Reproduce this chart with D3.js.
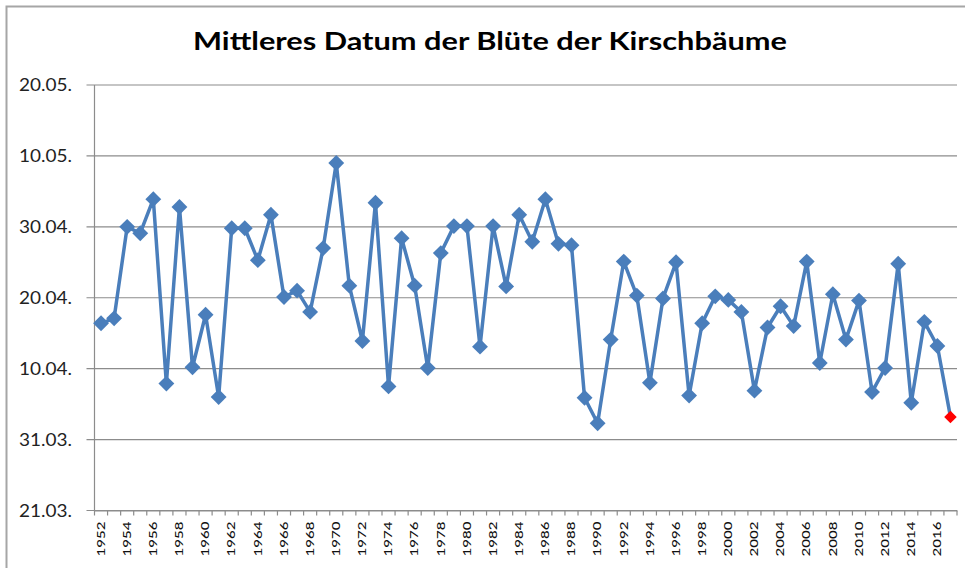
<!DOCTYPE html>
<html>
<head>
<meta charset="utf-8">
<script src="https://cdn.jsdelivr.net/npm/d3@7"></script>
<style>
  body { margin: 0; background: #fff; }
  text { font-family: Lato, "Open Sans", sans-serif; }
</style>
</head>
<body>
<svg width="965" height="568"></svg>
<script>
// Mittleres Datum der Kirschblüte, values = days after 21.03.
var years = d3.range(1952, 2018);
var bloomDays = [
  26.4, 27.1, 40.0, 39.1, 43.9, 17.9, 42.8, 20.2, 27.6, 16.0,
  39.8, 39.8, 35.3, 41.7, 30.1, 31.0, 28.0, 37.0, 49.0, 31.7,
  23.9, 43.4, 17.5, 38.4, 31.7, 20.1, 36.3, 40.1, 40.1, 23.1,
  40.1, 31.6, 41.7, 37.9, 43.9, 37.6, 37.4, 15.9, 12.3, 24.1,
  35.1, 30.3, 18.0, 29.9, 35.0, 16.2, 26.4, 30.2, 29.7, 28.0,
  16.9, 25.8, 28.8, 26.0, 35.1, 20.8, 30.5, 24.1, 29.6, 16.7,
  20.1, 34.8, 15.2, 26.6, 23.2, 13.2
];
var yTickValues = [0, 10, 20, 30, 40, 50, 60];
var yTickLabels = ['21.03.', '31.03.', '10.04.', '20.04.', '30.04.', '10.05.', '20.05.'];
var title = 'Mittleres Datum der Blüte der Kirschbäume';

var svg = d3.select('svg');
var plot = {l: 94.5, r: 957, t: 85, b: 510.5};

// outer frame (only top and left visible)
svg.append('path')
    .attr('d', 'M6.5,568 V6.5 H965')
    .attr('fill', 'none')
    .attr('stroke', '#a6a6a6')
    .attr('stroke-width', 2);

svg.append('text')
    .attr('x', 490).attr('y', 49.5)
    .attr('text-anchor', 'middle')
    .attr('font-size', 25).attr('font-weight', 'bold')
    .attr('textLength', 594).attr('lengthAdjust', 'spacingAndGlyphs')
    .attr('fill', '#000')
    .text(title);

var xScale = d3.scaleBand().domain(years).range([plot.l, plot.r]).padding(0);
var yScale = d3.scaleLinear().domain([0, 60]).range([plot.b, plot.t]);

// gridlines + y ticks
svg.append('g').selectAll('line')
    .data(yTickValues)
    .enter().append('line')
    .attr('x1', plot.l - 8).attr('x2', plot.r)
    .attr('y1', d => yScale(d)).attr('y2', d => yScale(d))
    .attr('stroke', '#8c8c8c').attr('stroke-width', 1.2);

svg.append('g').selectAll('text')
    .data(yTickValues)
    .enter().append('text')
    .attr('x', 72).attr('y', d => yScale(d))
    .attr('dy', '0.36em')
    .attr('text-anchor', 'end')
    .attr('font-size', 17)
    .attr('textLength', 53).attr('lengthAdjust', 'spacingAndGlyphs')
    .attr('fill', '#222')
    .text((d, i) => yTickLabels[i]);

// y axis line
svg.append('line')
    .attr('x1', plot.l).attr('x2', plot.l)
    .attr('y1', plot.t).attr('y2', plot.b)
    .attr('stroke', '#8c8c8c').attr('stroke-width', 1.2);

// x axis with ticks between categories
var xAxis = d3.axisBottom(xScale).tickSize(0).tickFormat('');
svg.append('g')
    .attr('transform', 'translate(0,' + plot.b + ')')
    .call(xAxis)
    .call(g => g.select('.domain').attr('stroke', '#8c8c8c').attr('stroke-width', 1.2));

svg.append('g').selectAll('line')
    .data(years.concat([2018]))
    .enter().append('line')
    .attr('x1', (d, i) => plot.l + i * xScale.bandwidth())
    .attr('x2', (d, i) => plot.l + i * xScale.bandwidth())
    .attr('y1', plot.b).attr('y2', plot.b + 5)
    .attr('stroke', '#8c8c8c').attr('stroke-width', 1.2);

svg.append('g').selectAll('text')
    .data(years.filter(y => y % 2 === 0))
    .enter().append('text')
    .attr('transform', d => 'translate(' + (xScale(d) + xScale.bandwidth() / 2) + ',' + (plot.b + 11) + ') rotate(-90)')
    .attr('dy', '0.36em')
    .attr('text-anchor', 'end')
    .attr('font-size', 10.5)
    .attr('font-weight', 500)
    .attr('textLength', 35).attr('lengthAdjust', 'spacingAndGlyphs')
    .attr('fill', '#111')
    .text(d => d);

// line
var line = d3.line()
    .x((d, i) => xScale(years[i]) + xScale.bandwidth() / 2)
    .y(d => yScale(d));

svg.append('path')
    .datum(bloomDays)
    .attr('d', line)
    .attr('fill', 'none')
    .attr('stroke', '#4a7ebb')
    .attr('stroke-width', 3.5)
    .attr('stroke-linejoin', 'round');

// diamond markers
var diamond = d3.symbol().type(d3.symbolDiamond2).size(160);
var diamondSmall = d3.symbol().type(d3.symbolDiamond2).size(100);
svg.append('g').selectAll('path')
    .data(bloomDays)
    .enter().append('path')
    .attr('transform', (d, i) => 'translate(' + (xScale(years[i]) + xScale.bandwidth() / 2) + ',' + yScale(d) + ')')
    .attr('d', (d, i) => i === bloomDays.length - 1 ? diamondSmall() : diamond())
    .attr('fill', (d, i) => i === bloomDays.length - 1 ? '#ff0000' : '#4a7ebb');
</script>
</body>
</html>
